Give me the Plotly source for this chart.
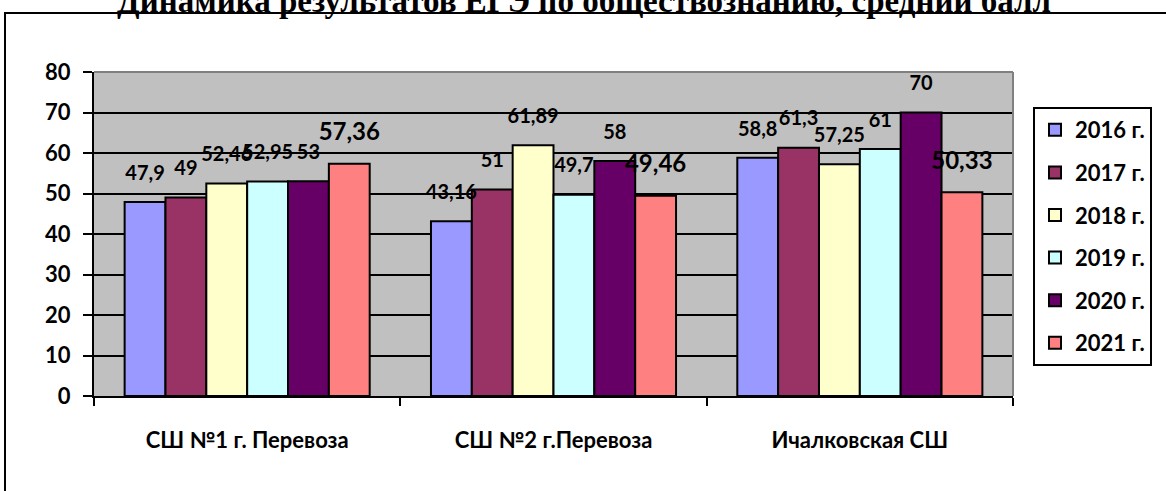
import plotly.graph_objects as go

categories = ["СШ №1 г. Перевоза", "СШ №2 г.Перевоза", "Ичалковская СШ"]
years = ["2016 г.", "2017 г.", "2018 г.", "2019 г.", "2020 г.", "2021 г."]
v2016 = [47.9, 43.16, 58.8]
v2017 = [49, 51, 61.3]
v2018 = [52.46, 61.89, 57.25]
v2019 = [52.95, 49.7, 61]
v2020 = [53, 58, 70]
v2021 = [57.36, 49.46, 50.33]
y_ticks = [0, 10, 20, 30, 40, 50, 60, 70, 80]
title_text = "Динамика результатов ЕГЭ по обществознанию, средний балл"

series = [v2016, v2017, v2018, v2019, v2020, v2021]
colors = ["#9999FF", "#993366", "#FFFFCC", "#CCFFFF", "#660066", "#FF8080"]
FONT = "Lato, 'Open Sans', 'Noto Sans', sans-serif"

def fmt(v):
    return ("%g" % v).replace(".", ",")

fig = go.Figure()
for i, (name, vals) in enumerate(zip(years, series)):
    fig.add_trace(go.Bar(
        x=categories, y=vals, name=name,
        marker=dict(color=colors[i], line=dict(color="black", width=2)),
        offsetgroup=str(i), legendgroup=str(i),
    ))
for i, (name, vals) in enumerate(zip(years, series)):
    fig.add_trace(go.Scatter(
        x=categories, y=vals, mode="markers+text",
        text=[fmt(v) for v in vals], textposition="top center",
        textfont=dict(family=FONT, size=24 if i == 5 else 20, color="black", weight="bold"),
        marker=dict(size=26, color="rgba(0,0,0,0)"),
        offsetgroup=str(i), showlegend=False, hoverinfo="skip", cliponaxis=False,
    ))

W, H = 1166, 491
L, T = 94, 72
pw, ph = 919, 324
R, B = W - L - pw, H - T - ph

def px(x):
    return (x - L) / pw

def py(y):
    return (T + ph - y) / ph

fig.update_layout(
    width=W, height=H,
    margin=dict(l=L, r=R, t=T, b=B, autoexpand=False),
    paper_bgcolor="white", plot_bgcolor="#C0C0C0",
    barmode="group", bargap=0.2, bargroupgap=0,
    scattermode="group", scattergap=0.2,
    font=dict(family=FONT, color="black"),
    showlegend=True,
    legend=dict(
        x=px(1033), y=py(107), xanchor="left", yanchor="top",
        bordercolor="black", borderwidth=2, bgcolor="white",
        font=dict(family=FONT, size=22, color="black", weight="bold"),
        traceorder="grouped", tracegroupgap=11,
    ),
    xaxis=dict(
        showgrid=False, showline=True, linecolor="black", linewidth=2,
        ticks="outside", tickson="boundaries", ticklen=8, tickwidth=1.5, tickcolor="black",
        tickfont=dict(family=FONT, size=22, weight="bold", color="black"),
        ticklabelstandoff=24,
    ),
    yaxis=dict(
        range=[0, 80], tickvals=y_ticks, showgrid=True, gridcolor="black", gridwidth=2,
        showline=True, linecolor="black", linewidth=2,
        ticks="outside", ticklen=9, tickwidth=2, tickcolor="black",
        tickfont=dict(family=FONT, size=22, weight="bold", color="black"),
        ticklabelstandoff=8, zeroline=False,
    ),
    shapes=[
        dict(type="line", xref="paper", yref="paper", x0=0, x1=1, y0=1, y1=1,
             line=dict(color="#808080", width=2)),
        dict(type="line", xref="paper", yref="paper", x0=1, x1=1, y0=0, y1=1,
             line=dict(color="#808080", width=2)),
        dict(type="rect", xref="paper", yref="paper",
             x0=px(5), x1=px(W + 10), y0=py(H + 10), y1=py(13),
             line=dict(color="black", width=2), layer="below"),
    ],
    annotations=[
        dict(text=title_text, xref="paper", yref="paper",
             x=px(584), y=py(1), xanchor="center", yanchor="middle",
             showarrow=False,
             font=dict(family="'Liberation Serif', 'Times New Roman', serif", size=33,
                       color="black", weight="bold")),
    ],
)

fig.write_html("out.html", config={"displayModeBar": False},
               post_script="document.body.style.margin='0';document.body.style.overflow='hidden';")
